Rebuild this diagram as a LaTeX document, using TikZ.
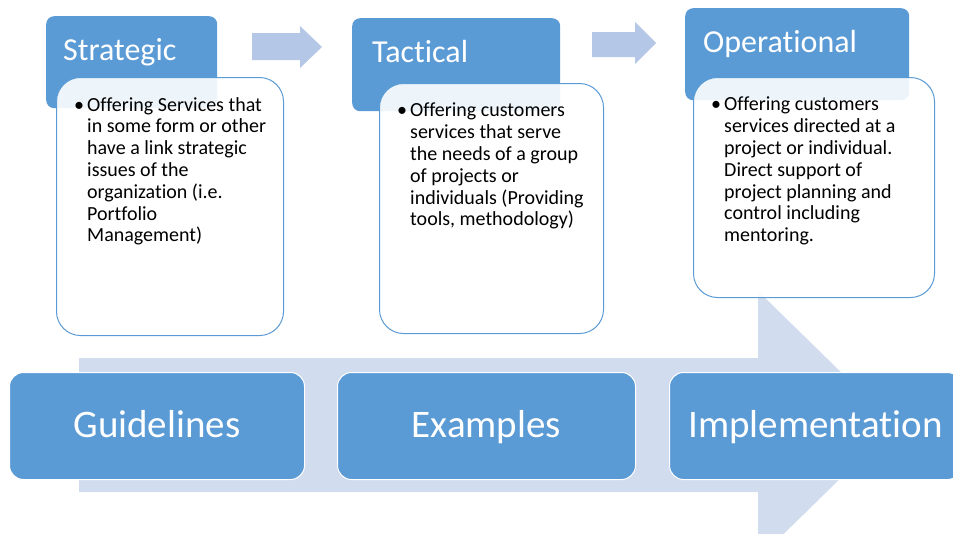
\documentclass[tikz,border=0pt]{standalone}
\usepackage{fontspec}
\setmainfont{Carlito}[Ligatures=NoCommon]
\usetikzlibrary{positioning,calc}
\definecolor{boxblue}{RGB}{91,155,213}
\definecolor{arrowblue}{RGB}{180,199,231}
\definecolor{flowblue}{RGB}{209,220,238}

\begin{document}
\begin{tikzpicture}[x=1pt,y=-1pt,
  head/.style={fill=boxblue,rounded corners=8pt,anchor=north west,inner sep=0pt},
  card/.style={draw=boxblue,line width=1pt,fill=white,fill opacity=0.9,rounded corners=24pt,anchor=north west,inner sep=0pt},
  title/.style={text=white,font=\fontsize{32}{38}\selectfont,anchor=base west,inner sep=0pt},
  body/.style={font=\fontsize{20}{21.8}\selectfont,align=left,anchor=north west,inner sep=0pt},
  stage/.style={fill=boxblue,draw=white,line width=1pt,rounded corners=14pt,minimum height=107pt,
    text height=25pt,text depth=2pt,text=white,font=\fontsize{39}{44}\selectfont,inner sep=0pt,anchor=north west}]
\useasboundingbox (0,0) rectangle (953,533);
\clip (0,0) rectangle (953,533);

% the long arrow behind the three stages
\fill[flowblue] (79,358) -- (758,358) -- (758,291) -- (895,425) -- (758,559) -- (758,492) -- (79,492) -- cycle;

% level headers
\node[head,minimum width=171pt,minimum height=92pt] (strat) at (46,16) {};
\node[head,minimum width=208pt,minimum height=93pt] (tact) at (352,18) {};
\node[head,minimum width=224pt,minimum height=92pt] (oper) at (685,8) {};
\node[title] (strattitle) at ($(strat.north west)+(17,44)$) {Strategic};
\node[title] (tacttitle) at ($(tact.north west)+(20,44)$) {Tactical};
\node[title] (opertitle) at ($(oper.north west)+(18,44)$) {Operational};

% small arrows between headers
\fill[arrowblue] (252,33) -- (300,33) -- (300,26) -- (322,47) -- (300,68) -- (300,60) -- (252,60) -- cycle;
\fill[arrowblue] (592,32) -- (635,32) -- (635,22) -- (656,43) -- (635,64) -- (635,57) -- (592,57) -- cycle;

% description cards
\node[card,minimum width=227pt,minimum height=258pt] (stratcard) at (56,77) {};
\node[card,minimum width=224pt,minimum height=250pt] (tactcard) at (379,83) {};
\node[card,minimum width=241pt,minimum height=220pt] (opercard) at (693,77) {};

\node[body] (strattext) at ($(stratcard.north west)+(31,20)$) {%
  \llap{\textbullet\hspace{3pt}}Offering Services that\\ in some form or other\\ have a link strategic\\
  issues of the\\ organization (i.e.\\ Portfolio\\ Management)};
\node[body] (tacttext) at ($(tactcard.north west)+(31,20)$) {%
  \llap{\textbullet\hspace{3pt}}Offering customers\\ services that serve\\ the needs of a group\\
  of projects or\\ individuals (Providing\\ tools, methodology)};
\node[body] (opertext) at ($(opercard.north west)+(31,20)$) {%
  \llap{\textbullet\hspace{3pt}}Offering customers\\ services directed at a\\ project or individual.\\
  Direct support of\\ project planning and\\ control including\\ mentoring.};

% stages along the arrow
\node[stage,minimum width=295pt] (guide) at (9,372) {Guidelines};
\node[stage,minimum width=298pt] (examp) at (337,372) {Examples};
\node[stage,minimum width=292pt] (impl) at (669,372) {Implementation};
\end{tikzpicture}
\end{document}
